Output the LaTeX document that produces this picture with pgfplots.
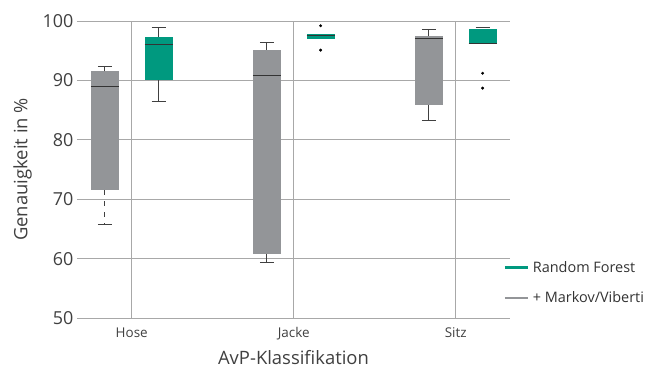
\documentclass[border=0pt]{standalone}
\usepackage{fontspec}
\setmainfont{Open Sans}
\usepackage{pgfplots}
\pgfplotsset{compat=1.18}
\definecolor{cgray}{HTML}{939598}
\definecolor{cgreen}{HTML}{00997F}
\definecolor{cgrid}{HTML}{A8A8A8}
\definecolor{cwhisk}{HTML}{404040}
\begin{document}
\begin{tikzpicture}
\useasboundingbox (-77bp,-53bp) rectangle (580bp,318bp);
\begin{axis}[
  scale only axis,
  width=433bp, height=297bp,
  xmin=-0.338, xmax=2.335,
  ymin=50, ymax=100,
  xtick={0,1,2},
  xticklabels={Hose,Jacke,Sitz},
  ytick={50,60,...,100},
  /pgf/number format/assume math mode=true,
  xticklabel style={font=\fontsize{13.5}{16}\selectfont, yshift=-6bp},
  yticklabel style={font=\fontsize{18}{20}\selectfont},
  major tick length=0pt,
  axis line style={draw=none},
  grid=major,
  grid style={cgrid, line width=0.8bp},
  unbounded coords=jump,
  xlabel={AvP-Klassifikation},
  ylabel={Genauigkeit in \%},
  label style={font=\fontsize{18.5}{21}\selectfont, text=black!75},
  tick label style={text=black!75},
  xlabel style={yshift=-3bp},
  ylabel style={yshift=4bp},
  legend style={at={(rel axis cs:0.978,0.205)}, anchor=north west, draw=none, fill=none,
    font=\fontsize{14.5}{17}\selectfont, row sep=14bp, text=black!80,
    nodes={inner xsep=4bp}},
  legend cell align=left,
  legend image code/.code={\draw[#1] (0bp,0bp) -- (23bp,0bp);},
]
% ---- boxes (lower quartile to upper quartile) ----
% Hose gray: 71.5 - 91.5
\addplot[fill=cgray, draw=none, forget plot] coordinates {(-0.2525,71.5) (-0.0795,71.5) (-0.0795,91.5) (-0.2525,91.5)};
% Hose green: 90.0 - 97.3
\addplot[fill=cgreen, draw=none, forget plot] coordinates {(0.0795,90.0) (0.2525,90.0) (0.2525,97.3) (0.0795,97.3)};
% Jacke gray: 60.8 - 95.2
\addplot[fill=cgray, draw=none, forget plot] coordinates {(0.7475,60.8) (0.9205,60.8) (0.9205,95.2) (0.7475,95.2)};
% Jacke green: 97.05 - 97.8
\addplot[fill=cgreen, draw=none, forget plot] coordinates {(1.0795,97.05) (1.2525,97.05) (1.2525,97.8) (1.0795,97.8)};
% Sitz gray: 85.9 - 97.4
\addplot[fill=cgray, draw=none, forget plot] coordinates {(1.7475,85.9) (1.9205,85.9) (1.9205,97.4) (1.7475,97.4)};
% Sitz green: 96.15 - 98.65
\addplot[fill=cgreen, draw=none, forget plot] coordinates {(2.0795,96.15) (2.2525,96.15) (2.2525,98.65) (2.0795,98.65)};
% ---- solid whiskers and caps ----
\addplot[cwhisk, line width=0.9bp, forget plot] coordinates {
  (-0.166,91.5) (-0.166,92.3) (0,nan) (-0.2095,92.3) (-0.1225,92.3) (0,nan)
  (-0.2095,65.8) (-0.1225,65.8) (0,nan)
  (0.166,97.3) (0.166,98.9) (0,nan) (0.1225,98.9) (0.2095,98.9) (0,nan)
  (0.166,90.0) (0.166,86.5) (0,nan) (0.1225,86.5) (0.2095,86.5) (0,nan)
  (0.834,95.2) (0.834,96.35) (0,nan) (0.7905,96.35) (0.8775,96.35) (0,nan)
  (0.834,60.8) (0.834,59.4) (0,nan) (0.7905,59.4) (0.8775,59.4) (0,nan)
  (1.834,97.4) (1.834,98.6) (0,nan) (1.7905,98.6) (1.8775,98.6) (0,nan)
  (1.834,85.9) (1.834,83.3) (0,nan) (1.7905,83.3) (1.8775,83.3) (0,nan)
  (2.1225,98.9) (2.2095,98.9)
};
% Hose gray lower whisker (dashed)
\addplot[cwhisk, line width=0.9bp, dash pattern=on 5bp off 6bp, forget plot] coordinates {(-0.166,71.5) (-0.166,65.8)};
% ---- medians ----
\addplot[black!80, line width=1.2bp, forget plot] coordinates {
  (-0.2525,89.0) (-0.0795,89.0) (0,nan)
  (0.0795,96.1) (0.2525,96.1) (0,nan)
  (0.7475,90.85) (0.9205,90.85) (0,nan)
  (1.0795,97.55) (1.2525,97.55) (0,nan)
  (1.7475,97.0) (1.9205,97.0) (0,nan)
  (2.0795,96.2) (2.2525,96.2)
};
% ---- outliers ----
\addplot[only marks, mark=*, mark size=1.3bp, black, forget plot] coordinates {
  (1.166,99.2) (1.166,95.1) (2.166,91.2) (2.166,88.7)
};
\addlegendimage{cgreen, line width=2.2bp}
\addlegendentry{Random Forest}
\addlegendimage{cgray, line width=2.2bp}
\addlegendentry{+ Markov/Viberti}
\end{axis}
\end{tikzpicture}
\end{document}
